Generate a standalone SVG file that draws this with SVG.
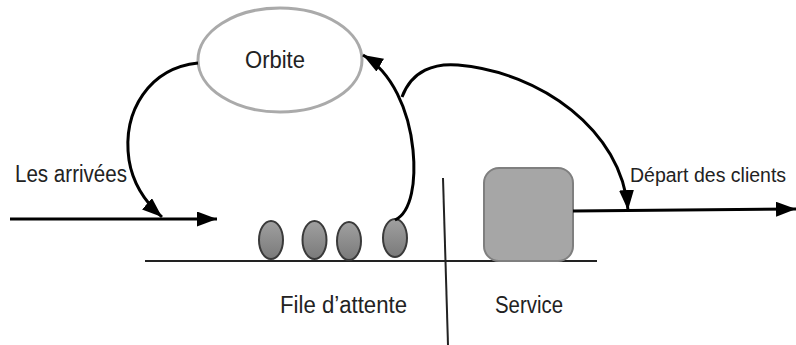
<svg xmlns="http://www.w3.org/2000/svg" width="796" height="345" viewBox="0 0 796 345">
<defs>
<marker id="ah" markerUnits="userSpaceOnUse" markerWidth="22" markerHeight="16" refX="20" refY="7.5" orient="auto">
<path d="M0,0 L20,7.5 L0,15 z" fill="#000"/>
</marker>
<linearGradient id="cg" x1="0" y1="0" x2="0" y2="1">
<stop offset="0" stop-color="#a0a0a0"/>
<stop offset="1" stop-color="#7a7a7a"/>
</linearGradient>
</defs>
<style>
text{font-family:"Liberation Sans",Arial,sans-serif;font-size:23px;fill:#222}
.cl{fill:url(#cg);stroke:#3a3a3a;stroke-width:2}
.ln{fill:none;stroke:#000;stroke-width:3}
.th{fill:none;stroke:#222;stroke-width:2}
</style>
<rect width="796" height="345" fill="#fff"/>
<g id="orbite">
<ellipse cx="280" cy="60" rx="82" ry="52" fill="#fff" stroke="#aaa" stroke-width="3"/>
<text x="245" y="68" textLength="60" lengthAdjust="spacingAndGlyphs">Orbite</text>
</g>
<g id="file">
<line x1="145" y1="261" x2="597" y2="261" class="th"/>
<ellipse class="cl" cx="271" cy="240" rx="12" ry="19"/>
<ellipse class="cl" cx="314.5" cy="240" rx="12" ry="19"/>
<ellipse class="cl" cx="349" cy="241" rx="12" ry="19"/>
<ellipse class="cl" cx="395" cy="238" rx="12" ry="19"/>
<text x="280" y="313" textLength="127" lengthAdjust="spacingAndGlyphs">File d’attente</text>
</g>
<g id="service">
<rect x="484" y="168" width="89" height="93" rx="15" fill="#a6a6a6" stroke="#7f7f7f" stroke-width="2"/>
<text x="495" y="313" textLength="68" lengthAdjust="spacingAndGlyphs">Service</text>
</g>
<g id="divider">
<line x1="443" y1="178" x2="448" y2="345" class="th"/>
</g>
<g id="labels">
<text x="15" y="182" textLength="112" lengthAdjust="spacingAndGlyphs">Les arrivées</text>
<text x="630" y="182" style="font-size:19.5px">Départ des clients</text>
</g>
<g id="connectors">
<path class="ln" d="M10,219 L217,219" marker-end="url(#ah)"/>
<path class="ln" d="M198,63 C150,68 122,110 129,160 C133,185 145,202 162,217" marker-end="url(#ah)"/>
<path class="ln" d="M395,220 C412,212 416,180 413,150 C409,110 392,72 363,55" marker-end="url(#ah)"/>
<path class="ln" d="M402,97 C412,70 435,63 458,65 C540,72 622,130 628,210" marker-end="url(#ah)"/>
<path class="ln" d="M573,211 L796,209" marker-end="url(#ah)"/>
</g>
</svg>
